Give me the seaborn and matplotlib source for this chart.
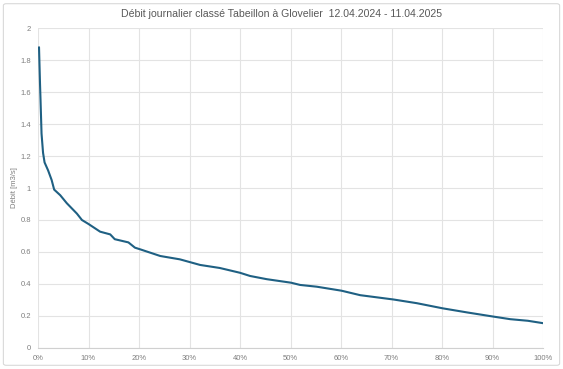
import numpy as np
import pandas as pd
import matplotlib.pyplot as plt
import seaborn as sns
from matplotlib.patches import FancyBboxPatch
from matplotlib.ticker import FuncFormatter

# Classed daily discharge (percent of time, m3/s)
pct = [0.2, 0.4, 0.5, 0.7, 1.0, 1.3, 2.0, 2.7, 3.2, 4.4, 5.7, 7.7, 8.7, 10.0,
       12.3, 14.3, 15.2, 17.9, 19.2, 20.2, 24.2, 28.1, 32.1, 36.0, 40.0, 42.0,
       45.3, 50.1, 51.9, 55.2, 60.1, 63.8, 70.4, 75.0, 80.1, 85.0, 90.2, 93.5,
       97.0, 100.0]
debit = [1.88, 1.65, 1.55, 1.34, 1.22, 1.16, 1.11, 1.05, 0.99, 0.955, 0.905,
         0.84, 0.80, 0.775, 0.727, 0.71, 0.68, 0.66, 0.627, 0.617, 0.575, 0.554,
         0.519, 0.50, 0.47, 0.45, 0.43, 0.408, 0.394, 0.383, 0.358, 0.33, 0.303,
         0.28, 0.248, 0.222, 0.196, 0.18, 0.17, 0.155]

df = pd.DataFrame({'pct': pct, 'debit': debit})

sns.set_style('white')
plt.rcParams['font.family'] = ['Liberation Sans', 'DejaVu Sans']

fig = plt.figure(figsize=(5.63, 3.69), dpi=100)
ax = fig.add_axes([0.0675, 0.057, 0.897, 0.867])

sns.lineplot(data=df, x='pct', y='debit', ax=ax, color='#1f6083', linewidth=1.5)

ax.set_xlim(0, 100)
ax.set_ylim(0, 2)
ax.set_xticks(np.arange(0, 101, 10))
ax.set_yticks(np.arange(0, 2.01, 0.2))
ax.xaxis.set_major_formatter(FuncFormatter(lambda v, p: f'{v:.0f}%'))
ax.yaxis.set_major_formatter(FuncFormatter(lambda v, p: f'{v:.1f}'.rstrip('0').rstrip('.')))
ax.tick_params(labelsize=5.5, colors='#7f7f7f', length=0, pad=5)
ax.grid(True, color='#e3e3e3', linewidth=0.8)
for s in ['top', 'right', 'left']:
    ax.spines[s].set_visible(False)
ax.spines['bottom'].set_color('#d0d0d0')

ax.set_xlabel('')
ax.set_ylabel('Débit [m3/s]', fontsize=5.5, color='#7f7f7f', labelpad=2)
fig.suptitle('Débit journalier classé Tabeillon à Glovelier  12.04.2024 - 11.04.2025',
             fontsize=7.6, color='#595959', y=0.975)

border = FancyBboxPatch((0.006, 0.01), 0.988, 0.98, boxstyle='round,pad=0,rounding_size=0.005',
                        transform=fig.transFigure, fill=False, edgecolor='#d9d9d9', linewidth=0.8)
fig.patches.append(border)

fig.savefig('out.png', dpi=100)
